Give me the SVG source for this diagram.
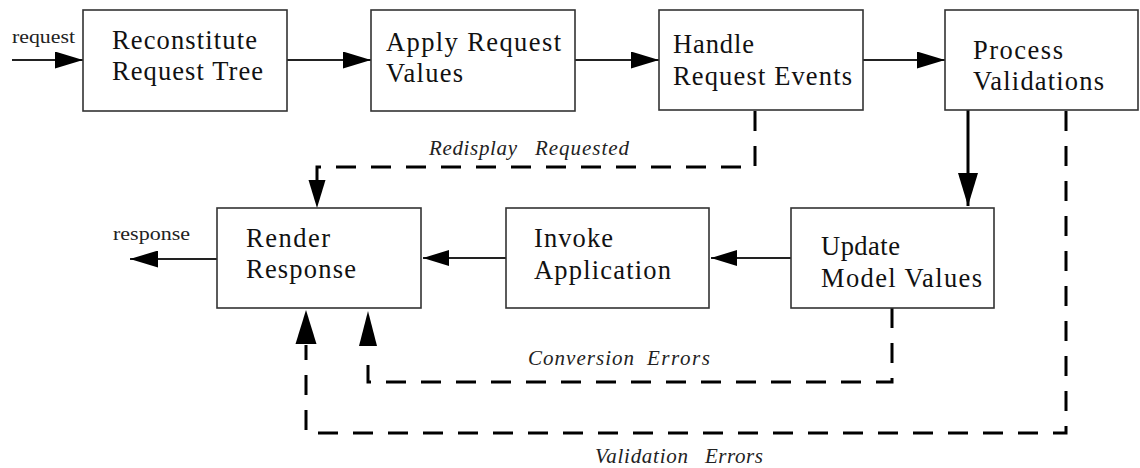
<svg xmlns="http://www.w3.org/2000/svg" width="1140" height="468" viewBox="0 0 1140 468">
<style>
.box{fill:#fff;stroke:#333;stroke-width:1.6}
.lbl{font-family:"Liberation Serif","Times New Roman",serif;font-size:26.5px;fill:#111}
.io{font-family:"Liberation Serif","Times New Roman",serif;font-size:19px;fill:#222}
.it{font-family:"Liberation Serif","Times New Roman",serif;font-style:italic;font-size:21px;fill:#222}
.ln{fill:none;stroke:#222;stroke-width:1.8}
.thick{fill:none;stroke:#000;stroke-width:3}
.dash{fill:none;stroke:#000;stroke-width:3;stroke-dasharray:20 15}
</style>
<defs>
<marker id="ah" markerUnits="userSpaceOnUse" markerWidth="28" markerHeight="17" refX="28" refY="8.5" orient="auto">
<path d="M0,0 L28,8.5 L0,17 z" fill="#000"/>
</marker>
<marker id="ahs" markerUnits="userSpaceOnUse" markerWidth="26" markerHeight="16" refX="26" refY="8" orient="auto">
<path d="M0,0 L26,8 L0,16 z" fill="#000"/>
</marker>
<marker id="ahb" markerUnits="userSpaceOnUse" markerWidth="33" markerHeight="20" refX="33" refY="10" orient="auto">
<path d="M0,0 L33,10 L0,20 z" fill="#000"/>
</marker>
</defs>
<rect width="1140" height="468" fill="#fff"/>
<g id="connectors">
<path class="ln" d="M12,60 L83,60" marker-end="url(#ah)"/>
<path class="ln" d="M287,60 L371,60" marker-end="url(#ah)"/>
<path class="ln" d="M575,60 L659,60" marker-end="url(#ah)"/>
<path class="ln" d="M863,60 L945,60" marker-end="url(#ah)"/>
<path class="thick" d="M968,110 L968,206" marker-end="url(#ahb)"/>
<path class="ln" d="M791,258 L711,258" marker-end="url(#ahs)"/>
<path class="ln" d="M506,258 L423,258" marker-end="url(#ahs)"/>
<path class="ln" d="M217,259 L130,259" marker-end="url(#ah)"/>
<path class="dash" d="M755,111 L755,167 L317,167 L317,182"/>
<path d="M308.5,180 L317,208 L325.5,180 z" fill="#000"/>
<path class="dash" d="M892,308 L892,382 L368,382 L368,360"/>
<path d="M359,346 L368,311 L377,346 z" fill="#000"/>
<path class="dash" d="M1066,111 L1066,433 L306,433 L306,345"/>
<path d="M295.5,344 L306,310 L316.5,344 z" fill="#000"/>
<text class="io" x="12" y="43" textLength="63" lengthAdjust="spacingAndGlyphs">request</text>
<text class="io" x="113" y="240" textLength="77" lengthAdjust="spacingAndGlyphs">response</text>
<text class="it" x="429" y="155" textLength="88" lengthAdjust="spacing">Redisplay</text>
<text class="it" x="535" y="155" textLength="94" lengthAdjust="spacing">Requested</text>
<text class="it" x="528" y="365" textLength="106" lengthAdjust="spacing">Conversion</text>
<text class="it" x="647" y="365" textLength="63" lengthAdjust="spacing">Errors</text>
<text class="it" x="595" y="463" textLength="93" lengthAdjust="spacing">Validation</text>
<text class="it" x="705" y="463" textLength="58" lengthAdjust="spacing">Errors</text>
</g>
<g id="reconstitute">
<rect class="box" x="83" y="10" width="204" height="101"/>
<text class="lbl" x="112" y="49" textLength="145" lengthAdjust="spacing">Reconstitute</text>
<text class="lbl" x="112" y="80" textLength="151" lengthAdjust="spacing">Request Tree</text>
</g>
<g id="apply">
<rect class="box" x="371" y="10" width="204" height="101"/>
<text class="lbl" x="386" y="51" textLength="175" lengthAdjust="spacing">Apply Request</text>
<text class="lbl" x="386" y="82" textLength="77" lengthAdjust="spacing">Values</text>
</g>
<g id="handle">
<rect class="box" x="659" y="10" width="204" height="100"/>
<text class="lbl" x="673" y="53" textLength="81" lengthAdjust="spacing">Handle</text>
<text class="lbl" x="673" y="85" textLength="179" lengthAdjust="spacing">Request Events</text>
</g>
<g id="process">
<rect class="box" x="945" y="10" width="193" height="100"/>
<text class="lbl" x="973" y="59" textLength="90" lengthAdjust="spacing">Process</text>
<text class="lbl" x="973" y="90" textLength="131" lengthAdjust="spacing">Validations</text>
</g>
<g id="render">
<rect class="box" x="217" y="208" width="204" height="100"/>
<text class="lbl" x="246" y="247" textLength="84" lengthAdjust="spacing">Render</text>
<text class="lbl" x="246" y="278" textLength="110" lengthAdjust="spacing">Response</text>
</g>
<g id="invoke">
<rect class="box" x="506" y="208" width="203" height="100"/>
<text class="lbl" x="534" y="247" textLength="79" lengthAdjust="spacing">Invoke</text>
<text class="lbl" x="534" y="279" textLength="137" lengthAdjust="spacing">Application</text>
</g>
<g id="update">
<rect class="box" x="791" y="208" width="203" height="100"/>
<text class="lbl" x="821" y="255" textLength="79" lengthAdjust="spacing">Update</text>
<text class="lbl" x="821" y="287" textLength="161" lengthAdjust="spacing">Model Values</text>
</g>
</svg>
